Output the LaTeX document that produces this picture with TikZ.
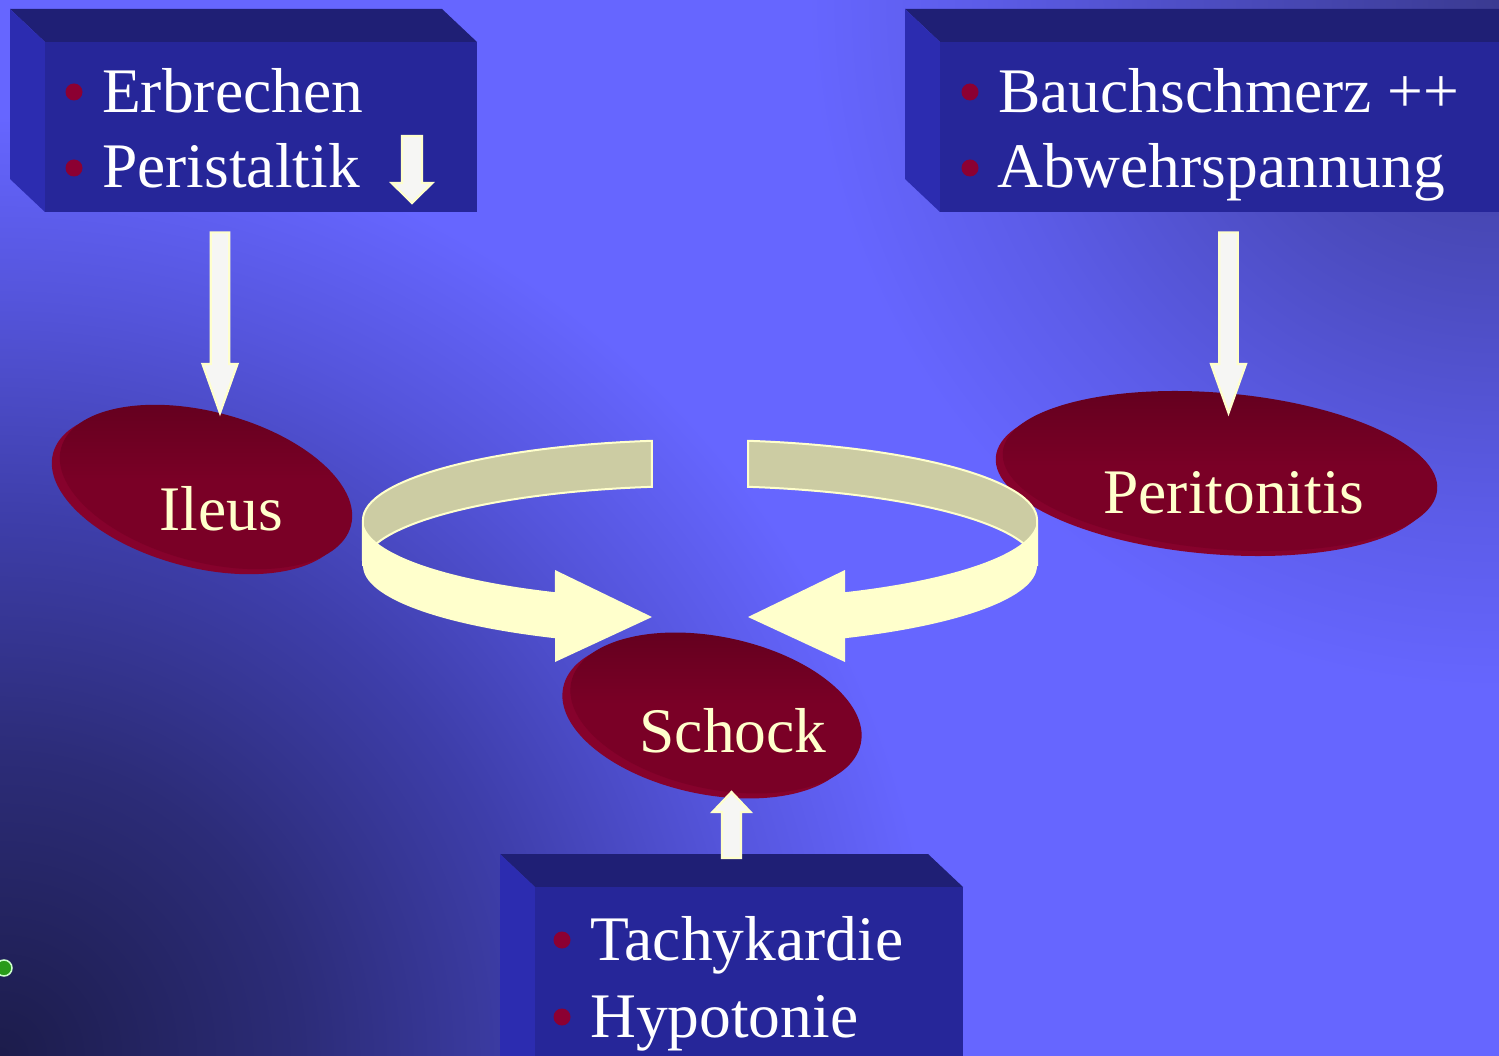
\documentclass[tikz,border=0pt]{standalone}
\usepackage{fontspec}
\setmainfont{Liberation Serif}
\usetikzlibrary{calc,shapes.geometric}

% palette
\definecolor{bgbase}{RGB}{102,102,255}
\definecolor{bgbl0}{RGB}{28,28,75}
\definecolor{bgbl1}{RGB}{44,44,120}
\definecolor{bgbl2}{RGB}{62,62,170}
\definecolor{bgbl3}{RGB}{85,85,220}
\definecolor{bgtr0}{RGB}{58,58,145}
\definecolor{bgtr1}{RGB}{76,76,192}
\definecolor{bgtr2}{RGB}{92,92,232}
\definecolor{boxfront}{RGB}{38,38,153}
\definecolor{boxtop}{RGB}{31,31,117}
\definecolor{boxside}{RGB}{44,44,176}
\definecolor{bulletred}{RGB}{140,0,50}
\definecolor{blobmain}{RGB}{122,0,38}
\definecolor{blobdark}{RGB}{98,0,30}
\definecolor{blobrim}{RGB}{134,2,44}
\definecolor{cream}{RGB}{255,255,204}
\definecolor{ribbontan}{RGB}{204,204,163}
\definecolor{arrowfill}{RGB}{246,246,244}
\definecolor{dotgreen}{RGB}{40,155,25}

% background corner glows (the shaded path's box spans the inner 50bp)
\pgfdeclareradialshading{cornerbl}{\pgfpoint{0bp}{0bp}}{%
  color(0bp)=(bgbl0); color(7.5bp)=(bgbl1); color(13.5bp)=(bgbl2);
  color(19bp)=(bgbl3); color(23.5bp)=(bgbase); color(50bp)=(bgbase)}
\pgfdeclareradialshading{cornertr}{\pgfpoint{0bp}{0bp}}{%
  color(0bp)=(bgtr0); color(10bp)=(bgtr1); color(18bp)=(bgtr2);
  color(24bp)=(bgbase); color(50bp)=(bgbase)}

\tikzset{
  boxtext/.style={text=white, inner sep=0, anchor=base west,
    font=\fontsize{63.5}{76}\selectfont},
  blobtext/.style={text=cream, inner sep=0, anchor=base,
    font=\fontsize{63.5}{76}\selectfont},
  frontface/.style={fill=boxfront, inner sep=0, anchor=north west},
  blobbody/.style={ellipse, inner sep=0, top color=blobdark,
    bottom color=blobmain, middle color=blobmain},
  blobedge/.style={ellipse, inner sep=0, fill=blobrim},
  blockarrow/.style={fill=arrowfill, draw=cream, line width=2.2, line join=miter},
  ribbonback/.style={fill=ribbontan, draw=cream, line width=2},
  ribbonfront/.style={fill=cream},
  bulletdot/.style={fill=bulletred}
}

% three-sided slab: #1 name, #2 #3 top-left of front face, #4 #5 size of front face
\newcommand\slab[5]{%
  \fill[boxtop] (#2,#3) -- ++(-35,-33) -- ++(#4,0) -- ++(35,33) -- cycle;
  \fill[boxside] (#2,#3) -- ++(-35,-33) -- ++(0,#5) -- ++(35,33) -- cycle;
  \node[frontface, minimum width=#4, minimum height=#5] (#1) at (#2,#3) {};
}

% vertical block arrow: #1 tail, #2 tip, #3 half shaft, #4 half head, #5 head offset
\newcommand\vblockarrow[5]{%
  \draw[blockarrow] ($(#1)+(-#3,0)$) -- ($(#2)+(-#3,#5)$) -- ($(#2)+(-#4,#5)$)
    -- (#2) -- ($(#2)+(#4,#5)$) -- ($(#2)+(#3,#5)$) -- ($(#1)+(#3,0)$) -- cycle;
}

\begin{document}
\begin{tikzpicture}[x=1pt, y=-1pt]
\useasboundingbox (0,0) rectangle (1499,1056);
\clip (0,0) rectangle (1499,1056);

% background
\fill[bgbase] (0,0) rectangle (1499,1056);
\shade[shading=cornerbl] (0,1056) circle (1000);
\shade[shading=cornertr] (1499,0) circle (720);
\fill[dotgreen, draw=white!80!green, line width=1.5] (4,968) circle (8);

% symptom slabs
\slab{symA}{45}{42}{432}{170}
\slab{symB}{940}{42}{600}{170}
\slab{symC}{535}{887}{428}{220}

% slab texts and bullets
\fill[bulletdot] (74,92) circle (8.5);
\fill[bulletdot] (74,168) circle (8.5);
\node[boxtext] (erbrechen) at (102,113) {Erbrechen};
\node[boxtext] (peristaltik) at (102,188) {Peristaltik};
\coordinate (perTail) at ($(symA.north west)+(367,94)$);
\coordinate (perTip) at ($(symA.north west)+(367,161)$);
\vblockarrow{perTail}{perTip}{10}{20.3}{-20}

\fill[bulletdot] (970,92) circle (8.5);
\fill[bulletdot] (970,168) circle (8.5);
\node[boxtext] (bauch) at (998,113) {Bauchschmerz ++};
\node[boxtext] (abwehr) at (997,188) {Abwehrspannung};

\fill[bulletdot] (562,940) circle (8.5);
\fill[bulletdot] (562,1017) circle (8.5);
\node[boxtext] (tachy) at (590,960) {Tachykardie};
\node[boxtext] (hypo) at (590,1037) {Hypotonie};

% diagnoses
\node[blobedge, minimum width=300, minimum height=150, rotate=-15] (ileusrim) at (198,492) {};
\node[blobbody, minimum width=300, minimum height=150, rotate=-15] (ileus) at (206,487) {};
\node[blobtext] (ileuslabel) at (221,530) {Ileus};

\node[blobedge, minimum width=436, minimum height=156, rotate=-5] (peritonitisrim) at (1213,476) {};
\node[blobbody, minimum width=436, minimum height=156, rotate=-5] (peritonitis) at (1220,471) {};
\node[blobtext] (peritonitislabel) at (1234,513) {Peritonitis};

\node[blobedge, minimum width=296, minimum height=152, rotate=-12] (schockrim) at (708,718) {};
\node[blobbody, minimum width=296, minimum height=152, rotate=-12] (schock) at (716,713) {};
\node[blobtext] (schocklabel) at (733,752) {Schock};

% straight arrows
\coordinate (ileusTip) at (220,413);
\coordinate (ileusTail) at ($(symA.south west)+(175,20)$);
\vblockarrow{ileusTail}{ileusTip}{9.3}{17.5}{-49}

\coordinate (periTip) at (1228.5,413);
\coordinate (periTail) at ($(symB.south west)+(288.5,20)$);
\vblockarrow{periTail}{periTip}{9.2}{17.5}{-49}

\coordinate (schockTip) at (731.5,792);
\coordinate (schockTail) at ($(symC.north west)+(196.5,-29)$);
\vblockarrow{schockTail}{schockTip}{9.5}{19}{20}

% circular ribbon arrows converging on the shock node
\draw[ribbonback] (651.9,440.8) arc[start angle=261.8, end angle=180, x radius=337, y radius=80]
  -- (363,566) arc[start angle=180, end angle=261.8, x radius=337, y radius=80] -- cycle;
\fill[ribbonfront] (363,520) arc[start angle=180, end angle=115.5, x radius=337, y radius=80]
  -- (555,570) -- (652,617) -- (555,662) -- (555,638.2)
  arc[start angle=115.5, end angle=180, x radius=337, y radius=80] -- cycle;

\draw[ribbonback] (748.1,440.8) arc[start angle=278.2, end angle=360, x radius=337, y radius=80]
  -- (1037,566) arc[start angle=360, end angle=278.2, x radius=337, y radius=80] -- cycle;
\fill[ribbonfront] (1037,520) arc[start angle=0, end angle=64.5, x radius=337, y radius=80]
  -- (845,570) -- (748,617) -- (845,662) -- (845,638.2)
  arc[start angle=64.5, end angle=0, x radius=337, y radius=80] -- cycle;
\end{tikzpicture}
\end{document}
